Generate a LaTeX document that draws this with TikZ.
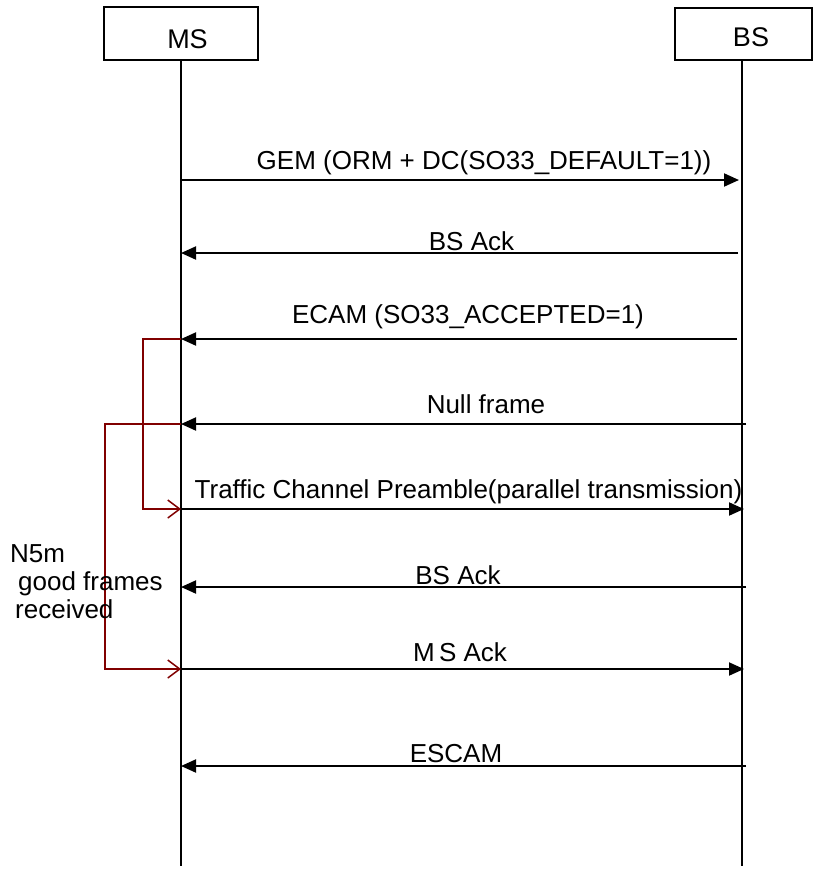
\documentclass[tikz,border=0pt]{standalone}
\usepackage{fontspec}
\setmainfont{Liberation Sans}
\usetikzlibrary{arrows.meta,positioning}
\definecolor{bracketred}{RGB}{128,0,0}

\begin{document}
\begin{tikzpicture}[x=1pt,y=-1pt,font=\fontsize{26}{30}\selectfont,box/.style={draw,line width=2pt,inner sep=0pt},lbl/.style={anchor=base,inner sep=0pt},life/.style={line width=2pt},msg/.style={line width=2pt,-{Triangle[length=15pt,width=13pt]}},brk/.style={draw=bracketred,line width=1.5pt,-{Straight Barb[length=12pt,width=18pt]}}]
\useasboundingbox (0,0) rectangle (813,871);
\node[box,minimum width=154pt,minimum height=53pt](ms)at(181,33.5){}; \node[box,minimum width=137pt,minimum height=52pt](bs)at(743.5,34){};
\node[lbl,font=\fontsize{27}{30}\selectfont](mstxt)at(187.5,48){MS}; \node[lbl,font=\fontsize{27}{30}\selectfont](bstxt)at(751,46){BS};
\coordinate(msend)at(181,866); \coordinate(bsend)at(742,866);
\draw[life](ms.south)--(msend); \draw[life](bs.south-|bsend)--(bsend);
% message end points
\coordinate(gemL)at(181,180); \coordinate(gemR)at(739,180); \coordinate(ack1L)at(181,253); \coordinate(ack1R)at(738,253);
\coordinate(ecamL)at(181,339); \coordinate(ecamR)at(737,339); \coordinate(nullL)at(181,424); \coordinate(nullR)at(746,424);
\coordinate(tcpL)at(181,509); \coordinate(tcpR)at(744,509); \coordinate(ack2L)at(181,587); \coordinate(ack2R)at(746,587);
\coordinate(msackL)at(181,669); \coordinate(msackR)at(744,669); \coordinate(escamL)at(181,766); \coordinate(escamR)at(746,766);
\draw[brk](ecamL)--++(-38,0)|-(tcpL); \draw[brk](nullL)--++(-76,0)|-(msackL);
\draw[msg](gemL)--(gemR); \draw[msg](ack1R)--(ack1L); \draw[msg](ecamR)--(ecamL); \draw[msg](nullR)--(nullL);
\draw[msg](tcpL)--(tcpR); \draw[msg](ack2R)--(ack2L); \draw[msg](msackL)--(msackR); \draw[msg](escamR)--(escamL);
\node[lbl](gem)at(484,169){GEM (ORM + DC(SO33\_DEFAULT=1))}; \node[lbl](ack1)at(471.5,250){BS Ack};
\node[lbl](ecam)at(468,323){ECAM (SO33\_ACCEPTED=1)}; \node[lbl](null)at(486,413){Null frame};
\node[lbl](tcp)at(468.5,498){Traffic Channel Preamble(parallel transmission)}; \node[lbl](ack2)at(458,584){BS Ack};
\node[lbl](msack)at(460,661){M\,S Ack}; \node[lbl](escam)at(456,762){ESCAM};
\node[lbl,anchor=base west](n5m)at(10,562){N5m}; \node[lbl,anchor=base west](good)at(18,590){good frames}; \node[lbl,anchor=base west](recv)at(15,618){received};
\end{tikzpicture}
\end{document}
